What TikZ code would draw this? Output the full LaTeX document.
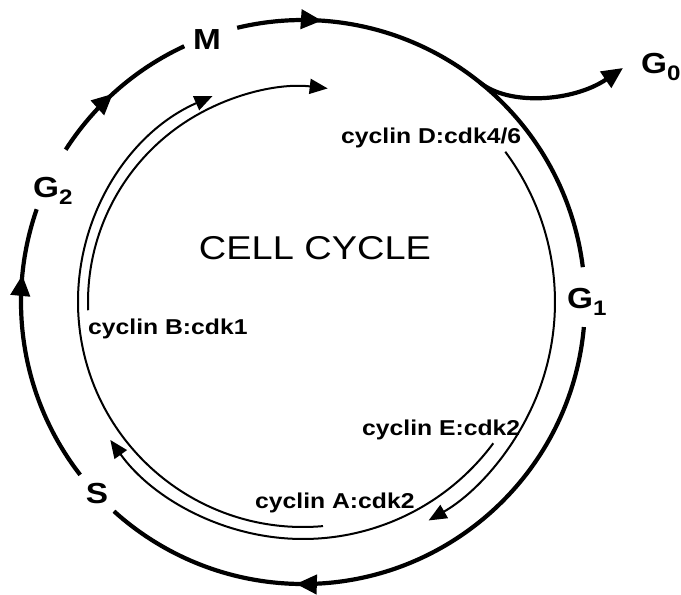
\documentclass[tikz,border=0pt]{standalone}
\usepackage{fontspec}
\newfontfamily\cyclefont{Liberation Sans}[FakeStretch=1.15]
\usetikzlibrary{arrows.meta,decorations.markings}
\newcommand{\phasename}[2]{#1\raisebox{-7pt}{\fontsize{21}{21}\selectfont#2}}

\begin{document}
\begin{tikzpicture}[x=1pt,y=1pt,
    outer/.style={line width=4.2pt},
    inner/.style={line width=2pt,-{Triangle[length=18pt,width=15pt]}},
    midarrow/.style={postaction={decorate},decoration={markings,
      mark=at position #1 with {\arrow{Triangle[length=21pt,width=19pt]}}}},
    phase/.style={inner sep=0pt,font=\cyclefont\fontsize{29}{29}\selectfont\bfseries},
    cyclin/.style={inner sep=0pt,anchor=base west,font=\cyclefont\fontsize{21.5}{21.5}\selectfont\bfseries}]
  \useasboundingbox (-303,-293) rectangle (378,302);
  \def\R{282}
  % phases round the outside
  \foreach \a/\b/\p in {147.3/114.9/0.46,103.5/7.1/0.18,-5.1/-132.1/0.68,217.8/160.8/0.76}
    \draw[outer,midarrow=\p] (\a:\R) arc[start angle=\a,end angle=\b,radius=\R];
  \coordinate (split) at (51.2:\R);
  \coordinate (g0tip) at (320,234);
  \draw[outer,-{Triangle[length=21pt,width=19pt]}] (split) .. controls (205,196) and (270,200) .. (g0tip);
  % cyclin:cdk activity
  \foreach \r/\a/\b in {252/36.6/-60.1,237/-36.6/-144.4,225/-84.9/-246.3,215/182.2/83.4}
    \draw[inner] (\a:\r) arc[start angle=\a,end angle=\b,radius=\r];
  \node[phase,anchor=base] (m) at (-96,252) {M};
  \node[phase,anchor=base west] (g2) at (-270,105) {\phasename{G}{2}};
  \node[phase,anchor=base] (s) at (-206,-201) {S};
  \node[phase,anchor=base west] (g1) at (264,-6) {\phasename{G}{1}};
  \node[phase,anchor=base west] (g0) at (338,229) {\phasename{G}{0}};
  \node[font=\cyclefont\fontsize{33}{33}\selectfont] (title) at (12,54) {CELL CYCLE};
  \node[cyclin] (cycD) at (38,159) {cyclin D:cdk4/6};
  \node[cyclin] (cycE) at (59,-133) {cyclin E:cdk2};
  \node[cyclin] (cycA) at (-48,-206) {cyclin A:cdk2};
  \node[cyclin] (cycB) at (-215,-32) {cyclin B:cdk1};
\end{tikzpicture}
\end{document}
